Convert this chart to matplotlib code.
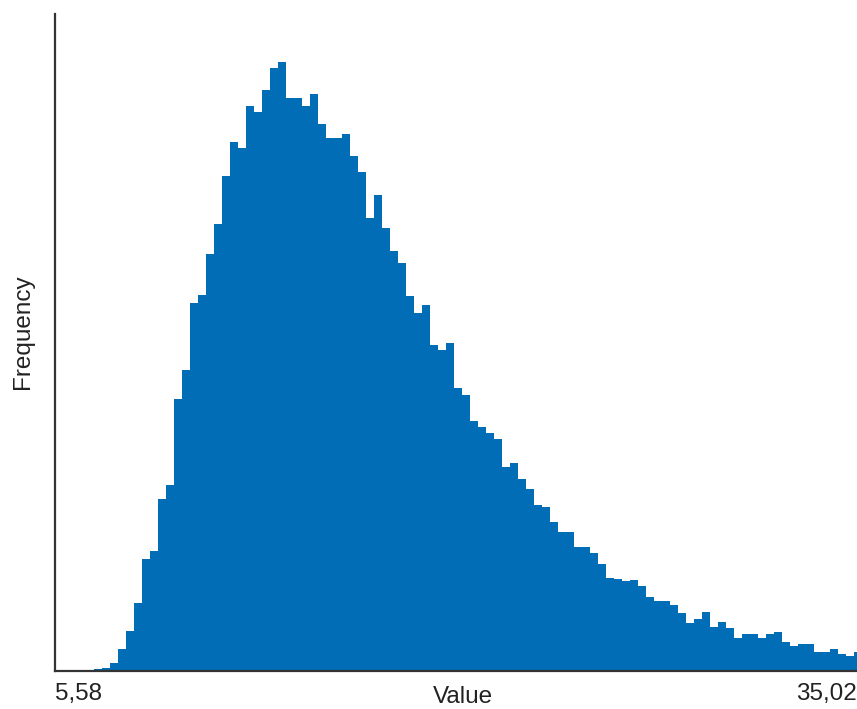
import matplotlib
matplotlib.use("Agg")
import matplotlib.pyplot as plt
from matplotlib.transforms import blended_transform_factory

# ---- data ----
x_min_label = "5,58"
x_max_label = "35,02"
x_min = 5.58
x_max = 35.02
first_edge = 7.02
bin_width = 0.2937
counts = [17, 33, 77, 217, 397, 680, 1117, 1197, 1717, 1857,
          2723, 3007, 3683, 3763, 4167, 4467, 4947, 5287, 5227, 5647,
          5590, 5810, 6027, 6090, 5727, 5727, 5647, 5770, 5470, 5327,
          5327, 5367, 5150, 4987, 4527, 4763, 4427, 4203, 4083, 3747,
          3583, 3663, 3260, 3207, 3283, 2827, 2760, 2500, 2443, 2380,
          2320, 2040, 2080, 1920, 1820, 1657, 1640, 1493, 1393, 1393,
          1237, 1237, 1177, 1073, 933, 917, 897, 913, 853, 737,
          697, 697, 657, 577, 477, 517, 593, 440, 493, 433,
          333, 370, 370, 333, 370, 393, 293, 253, 270, 270,
          193, 193, 217, 170, 153, 193]
y_top = 6570
x_title = "Value"
y_title = "Frequency"
bar_color = "#006DB6"
text_color = "#222222"

edges = [first_edge + i * bin_width for i in range(len(counts))]

W, H = 857, 709
fig = plt.figure(figsize=(W / 100, H / 100), dpi=100)
ax = fig.add_axes([55 / W, (H - 671) / H, (857 - 55) / W, (671 - 14) / H])

ax.bar(edges, counts, width=bin_width, align="edge", color=bar_color,
       linewidth=0, antialiased=True)

ax.set_xlim(x_min, x_max)
ax.set_ylim(0, y_top)

for s in ["top", "right"]:
    ax.spines[s].set_visible(False)
for s in ["left", "bottom"]:
    ax.spines[s].set_color("#333333")
    ax.spines[s].set_linewidth(1.6)
    ax.spines[s].set_zorder(5)

ax.set_xticks([])
ax.set_yticks([])

font = dict(family=["Liberation Sans", "DejaVu Sans"], size=17.5, color=text_color)
trans = blended_transform_factory(ax.transData, fig.transFigure)
ax.text(x_min, 1 - 694 / H, x_min_label, transform=trans, ha="left", va="center", **font)
ax.text(x_max, 1 - 694 / H, x_max_label, transform=trans, ha="right", va="center", **font)

fig.text(463 / W, 1 - 697 / H, x_title, ha="center", va="center", **font)
fig.text(23 / W, 1 - 332 / H, y_title, ha="center", va="center", rotation=90, **font)

fig.savefig("out.png", dpi=100)
